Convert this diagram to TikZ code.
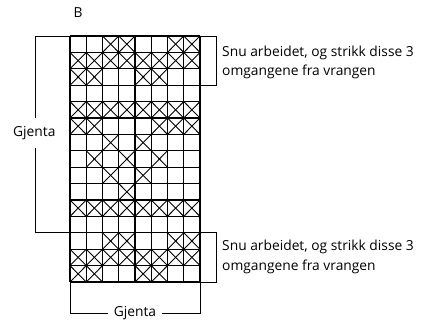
\documentclass[tikz,border=0pt]{standalone}
\usepackage{fontspec}
\setmainfont{Open Sans}
\usepackage{tikz}

\tikzset{
	grid line/.style={line width=1.1pt},
	cross/.style={line width=0.9pt},
	bracket/.style={line width=0.9pt},
	label/.style={font=\fontsize{13.8}{19.5}\selectfont, inner sep=1pt},
}

\begin{document}
\begin{tikzpicture}[x=1pt,y=-1pt]
	
	\useasboundingbox (0,0) rectangle (430,323);
	
	% cell size
	\def\cw{16.25}
	\def\ch{16.4}
	
	\coordinate (tl) at (70,36);
	\coordinate (tr) at (200,36);
	\coordinate (bl) at (70,282);
	\coordinate (br) at (200,282);
	
	% crosses, row by row
	\foreach \r/\cols in {1/{3,4,7,8}, 2/{1,...,8}, 3/{1,2,5,6}, 5/{1,...,8},
		6/{1,2,6,7,8}, 7/{3,5}, 8/{2,4,6}, 9/{3,5}, 10/{4}, 11/{1,...,8},
		13/{3,4,7,8}, 14/{1,...,8}, 15/{1,2,5,6}}{
		\foreach \c in \cols{
			\draw[cross] ({70+(\c-1)*\cw},{36+(\r-1)*\ch}) -- ++(\cw,\ch);
			\draw[cross] ({70+\c*\cw},{36+(\r-1)*\ch}) -- ++(-\cw,\ch);
		}
	}
	
	% grid
	\foreach \c in {0,...,8}
		\draw[grid line] ({70+\c*\cw},36) -- ({70+\c*\cw},282);
	\foreach \r in {0,...,15}
		\draw[grid line] (70,{36+\r*\ch}) -- (200,{36+\r*\ch});
	
	\node[label] (B) at (78,13) {B};
	
	% right brackets
	\coordinate (r3) at (200,{36+3*\ch});
	\coordinate (r12) at (200,{36+12*\ch});
	\draw[bracket] (tr) -- ++(16,0) |- (r3);
	\draw[bracket] (r12) -- ++(16,0) |- (br);
	\node[label, anchor=west, align=left] (top note) at (221,62.5)
		{Snu arbeidet, og strikk disse 3\\omgangene fra vrangen};
	\node[label, anchor=west, align=left] (bottom note) at (221,257)
		{Snu arbeidet, og strikk disse 3\\omgangene fra vrangen};
	
	% left bracket
	\coordinate (l12) at (70,{36+12*\ch});
	\draw[bracket] (tl) -- (35.7,36) -- (35.7,{36+12*\ch}) -- (l12);
	\node[label, fill=white, inner ysep=8pt] (left rep) at (34.3,133) {Gjenta};
	
	% bottom bracket
	\draw[bracket] (bl) -- (70,313) -- (200,313) -- (br);
	\node[label, fill=white, inner xsep=6pt] (bottom rep) at (135,313) {Gjenta};
	
\end{tikzpicture}
\end{document}
